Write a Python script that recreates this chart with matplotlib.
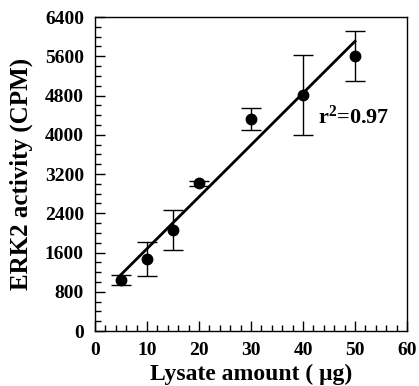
import numpy as np
import matplotlib
matplotlib.use("Agg")
import matplotlib.pyplot as plt
from matplotlib.ticker import MultipleLocator

lysate = [5, 10, 15, 20, 30, 40, 50]
activity = [1040, 1463, 2058, 3015, 4322, 4814, 5600]
err = [110, 350, 410, 50, 215, 810, 505]
x_ticks = [0, 10, 20, 30, 40, 50, 60]
y_ticks = [0, 800, 1600, 2400, 3200, 4000, 4800, 5600, 6400]

plt.rcParams['font.family'] = ['Liberation Serif', 'DejaVu Serif']
plt.rcParams['font.weight'] = 'bold'
plt.rcParams['mathtext.fontset'] = 'custom'
plt.rcParams['mathtext.rm'] = 'Liberation Serif:bold'
plt.rcParams['mathtext.bf'] = 'Liberation Serif:bold'
plt.rcParams['mathtext.it'] = 'Liberation Serif:bold'

fig = plt.figure(figsize=(4.19, 3.86), dpi=100)
ax = fig.add_axes([95 / 419, 1 - 331 / 386, 312 / 419, 314 / 386])

ax.errorbar(lysate, activity, yerr=err, fmt='o', color='black', ms=7.5,
            ecolor='black', elinewidth=1, capsize=7, capthick=1, zorder=3)

slope, intercept = np.polyfit(lysate, activity, 1)
xf = np.array([min(lysate), max(lysate)])
ax.plot(xf, slope * xf + intercept, color='black', lw=2, zorder=2)

ax.text(42.8, 4351, r'$\mathrm{r}^{\mathrm{2}}$=0.97', fontsize=16, fontweight='bold',
        va='center', ha='left')

ax.set_xlim(0, 60)
ax.set_ylim(0, 6400)
ax.set_xticks(x_ticks)
ax.set_yticks(y_ticks)
ax.xaxis.set_minor_locator(MultipleLocator(2))
ax.yaxis.set_minor_locator(MultipleLocator(200))
ax.tick_params(which='both', direction='in', top=False, right=False, width=1)
ax.tick_params(which='major', length=7, labelsize=14)
ax.tick_params(axis='x', which='major', pad=8)
ax.tick_params(axis='y', which='major', pad=8)
ax.tick_params(which='minor', length=4)
for lab in ax.get_xticklabels() + ax.get_yticklabels():
    lab.set_fontweight('bold')
for s in ax.spines.values():
    s.set_linewidth(1)

ax.set_xlabel('Lysate amount ( μg)', fontsize=17, fontweight='bold')
ax.set_ylabel('ERK2 activity (CPM)', fontsize=18, fontweight='bold')
ax.xaxis.set_label_coords(0.5, (331 - 364) / 314)
ax.yaxis.set_label_coords((33 - 95) / 312, 0.5)

fig.savefig('out.png', dpi=100)
